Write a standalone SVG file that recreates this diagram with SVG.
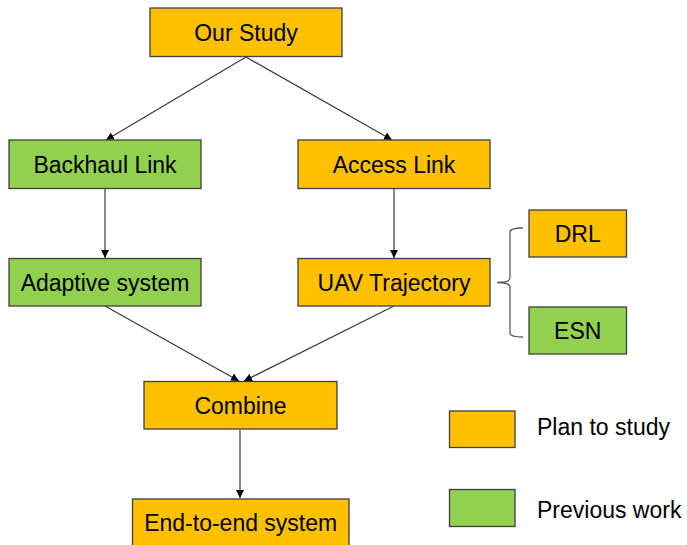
<svg xmlns="http://www.w3.org/2000/svg" width="687" height="545" viewBox="0 0 687 545">
  <style>
    .box { stroke: #404040; stroke-width: 1.3; }
    .plan { fill: #FFC000; }
    .prev { fill: #92D050; }
    .lbl { font-family: "Liberation Sans", Arial, sans-serif; font-size: 23px; fill: #000; text-anchor: middle; }
    .leg { font-family: "Liberation Sans", Arial, sans-serif; font-size: 23px; fill: #000; }
    .edge { stroke: #3a3a3a; stroke-width: 1.2; fill: none; marker-end: url(#arrow); }
    .brace { stroke: #595959; stroke-width: 1.3; fill: none; }
  </style>
  <defs>
    <marker id="arrow" viewBox="0 0 10 10" refX="10" refY="5" markerWidth="8" markerHeight="8" markerUnits="userSpaceOnUse" orient="auto">
      <path d="M0,0 L10,5 L0,10 z" fill="#000"/>
    </marker>
  </defs>

  <rect width="687" height="545" fill="#fff"/>

  <g id="connectors">
    <line class="edge" x1="246" y1="57" x2="106" y2="140"/>
    <line class="edge" x1="246" y1="57" x2="392" y2="140"/>
    <line class="edge" x1="105" y1="189" x2="105" y2="258"/>
    <line class="edge" x1="394" y1="189" x2="394" y2="258"/>
    <line class="edge" x1="105" y1="306" x2="239" y2="381"/>
    <line class="edge" x1="394" y1="306" x2="244" y2="381"/>
    <line class="edge" x1="240" y1="430" x2="240" y2="498"/>
  </g>

  <g id="our-study">
    <rect class="box plan" x="150" y="8" width="192" height="48.5"/>
    <text class="lbl" x="246" y="40.5">Our Study</text>
  </g>
  <g id="backhaul-link">
    <rect class="box prev" x="9" y="140" width="192" height="48.5"/>
    <text class="lbl" x="105" y="172.5">Backhaul Link</text>
  </g>
  <g id="access-link">
    <rect class="box plan" x="298" y="140" width="192" height="48.5"/>
    <text class="lbl" x="394" y="172.5">Access Link</text>
  </g>
  <g id="adaptive-system">
    <rect class="box prev" x="9" y="258.5" width="192" height="47.5"/>
    <text class="lbl" x="105" y="290.5">Adaptive system</text>
  </g>
  <g id="uav-trajectory">
    <rect class="box plan" x="298" y="258.5" width="192" height="47.5"/>
    <text class="lbl" x="394" y="290.5">UAV Trajectory</text>
  </g>
  <g id="drl">
    <rect class="box plan" x="529" y="210" width="97.5" height="47"/>
    <text class="lbl" x="577.7" y="241.5">DRL</text>
  </g>
  <g id="esn">
    <rect class="box prev" x="529" y="307" width="97.5" height="47"/>
    <text class="lbl" x="577.7" y="338.5">ESN</text>
  </g>
  <g id="brace">
    <path class="brace" d="M523,228 Q510,228 510,232 L510,278 Q510,282.5 497,282.5 Q510,282.5 510,287 L510,333 Q510,337 523,337"/>
  </g>
  <g id="combine">
    <rect class="box plan" x="144" y="381.5" width="193" height="47.5"/>
    <text class="lbl" x="240.5" y="413.5">Combine</text>
  </g>
  <g id="end-to-end-system">
    <rect class="box plan" x="132.5" y="499" width="216.5" height="50"/>
    <text class="lbl" x="240.7" y="531">End-to-end system</text>
  </g>

  <g id="legend">
    <rect class="box plan" x="449.5" y="411" width="65.5" height="36.5"/>
    <text class="leg" x="537" y="435">Plan to study</text>
    <rect class="box prev" x="449.5" y="489.5" width="65.5" height="37"/>
    <text class="leg" x="537" y="518">Previous work</text>
  </g>
</svg>
